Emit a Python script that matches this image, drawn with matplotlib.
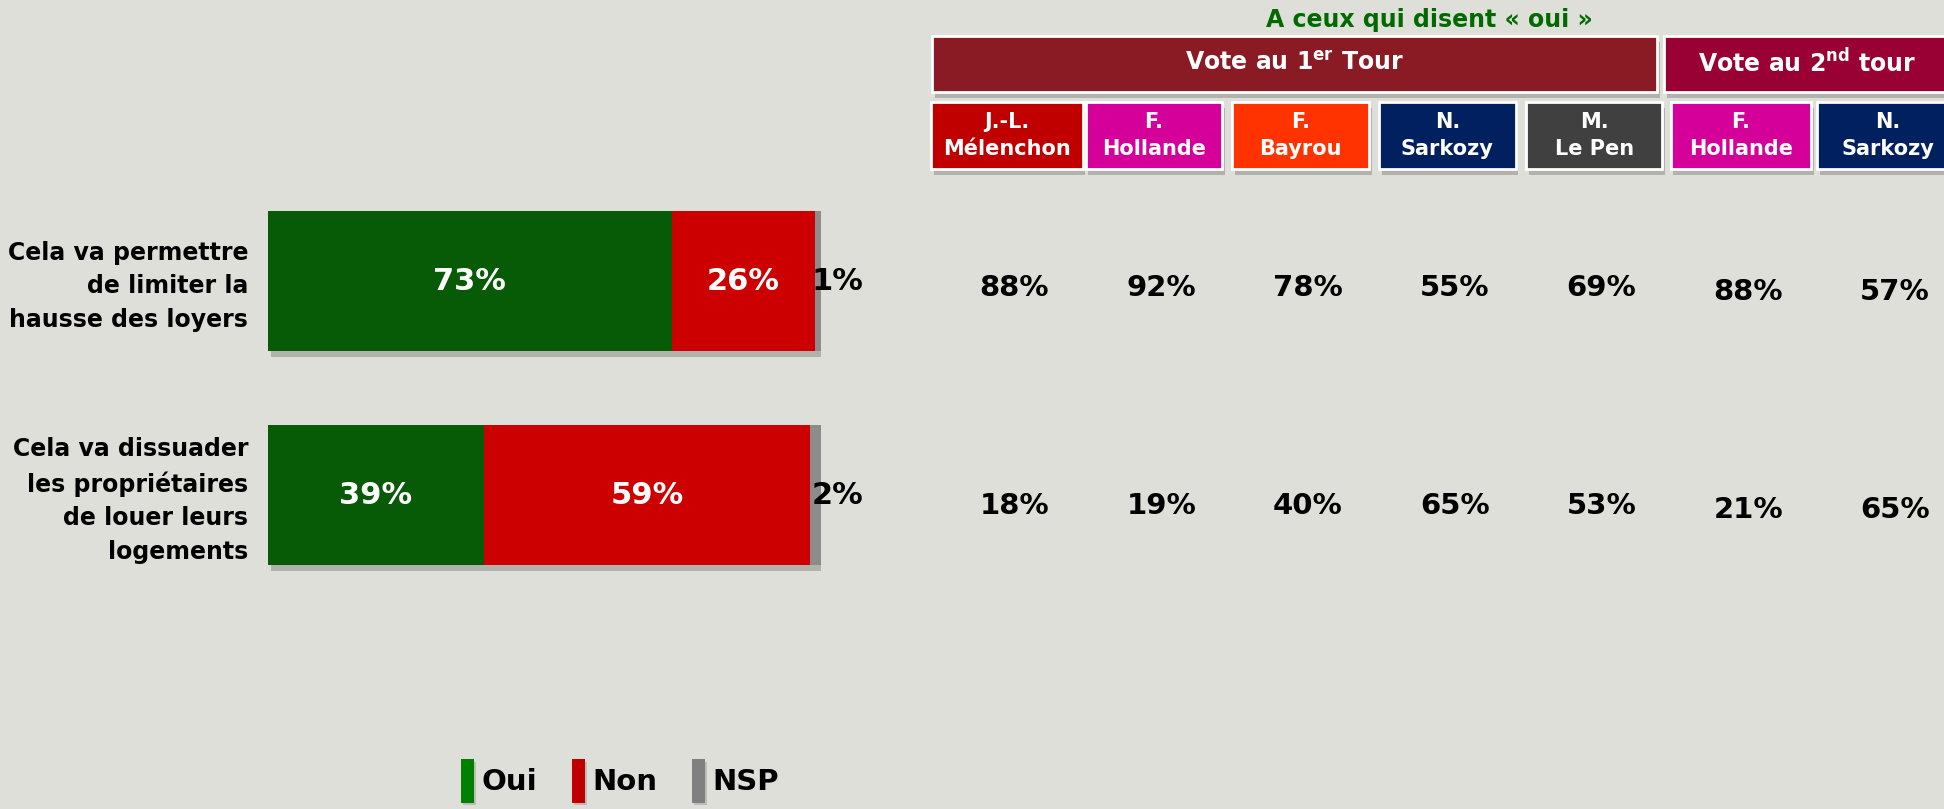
import numpy as np
import matplotlib
matplotlib.use("Agg")
import matplotlib.pyplot as plt
import matplotlib.patheffects as pe
from matplotlib.patches import Rectangle, Patch

plt.rcParams['font.family'] = ['DejaVu Sans']
plt.rcParams['font.weight'] = 'bold'
plt.rcParams['mathtext.fontset'] = 'dejavusans'
plt.rcParams['mathtext.default'] = 'bf'

# --- data ---
questions = ["Cela va permettre\nde limiter la\nhausse des loyers",
             "Cela va dissuader\nles propriétaires\nde louer leurs\nlogements"]
oui = [73, 39]
non = [26, 59]
nsp = [1, 2]

groups = ["Vote au 1$^{er}$ Tour", "Vote au 2$^{nd}$ tour"]
group_span = [5, 2]
candidates = ["J.-L.\nMélenchon", "F.\nHollande", "F.\nBayrou", "N.\nSarkozy",
              "M.\nLe Pen", "F.\nHollande", "N.\nSarkozy"]
cand_colors = ["#C00000", "#D5009A", "#FF3300", "#002060", "#404040",
               "#D5009A", "#002060"]
row1_vals = [88, 92, 78, 55, 69, 88, 57]
row2_vals = [18, 19, 40, 65, 53, 21, 65]

bg = "#DFDFD9"
bar_colors = ["#075B07", "#CC0000", "#8C8C8C"]
legend_colors = ["#008000", "#C00000", "#808080"]
group_colors = ["#8A1A24", "#990033"]

W, H = 1944, 809
fig = plt.figure(figsize=(W / 100, H / 100), dpi=100, facecolor=bg)

shadow = [pe.withSimplePatchShadow(offset=(2, -4), shadow_rgbFace="k", alpha=0.2)]

# --- stacked bars ---
ax = fig.add_axes([268 / W, 0, 553 / W, 1])
ax.set_facecolor("none")
ax.set_xlim(0, 100)
ax.set_ylim((H - 281) / 214, -281 / 214)
ax.axis("off")

y = np.arange(len(questions))
left = np.zeros(len(questions))
for vals, col in zip([oui, non, nsp], bar_colors):
    bars = ax.barh(y, vals, left=left, height=0.654, color=col, zorder=2)
    for b in bars:
        b.set_path_effects(shadow)
    left = left + np.array(vals)

for i in range(len(questions)):
    ax.text(oui[i] / 2, y[i], f"{oui[i]}%", ha="center", va="center",
            color="white", fontsize=22, fontweight="bold", zorder=3)
    ax.text(oui[i] + non[i] / 2, y[i], f"{non[i]}%", ha="center", va="center",
            color="white", fontsize=22, fontweight="bold", zorder=3)
    ax.text(left[i] + 3, y[i], f"{nsp[i]}%", ha="center", va="center",
            color="black", fontsize=22, fontweight="bold", zorder=3)
    ax.text(-3.6, y[i] + 0.025, questions[i], ha="right", va="center",
            multialignment="right", fontsize=17, fontweight="bold",
            linespacing=1.5)

# --- results table by vote ---
pitch = 146.8
tx = fig.add_axes([932 / W, 0, 1 - 932 / W, 1])
tx.set_facecolor("none")
tx.set_xlim((932 - 1007) / pitch, (W - 1007) / pitch)
tx.set_ylim((H - 288) / 218, -288 / 218)
tx.axis("off")

tx.text(2.88, -1.229, "A ceux qui disent « oui »", ha="center", va="center",
        color="#006A00", fontsize=17, fontweight="bold")

g_edges = [(-0.511, 4.428), (4.476, 6.6)]
g_text_x = [1.96, 5.45]
for (x0, x1), xc, name, col in zip(g_edges, g_text_x, groups, group_colors):
    r = Rectangle((x0, -1.156), x1 - x0, 0.257, facecolor=col,
                  edgecolor="white", linewidth=2, clip_on=False)
    r.set_path_effects(shadow)
    tx.add_patch(r)
    tx.text(xc, -1.03, name, ha="center", va="center", color="white",
            fontsize=17, fontweight="bold")

box_w = [1.03, 0.93, 0.93, 0.93, 0.93, 0.96, 0.96]
for i, (name, col) in enumerate(zip(candidates, cand_colors)):
    r = Rectangle((i - box_w[i] / 2, -0.853), box_w[i], 0.307, facecolor=col,
                  edgecolor="white", linewidth=2, clip_on=False)
    r.set_path_effects(shadow)
    tx.add_patch(r)
    tx.text(i, -0.70, name, ha="center", va="center", color="white",
            fontsize=15, fontweight="bold", linespacing=1.4)

for i in range(len(candidates)):
    dy = 0.018 if i >= group_span[0] else 0
    tx.text(i + 0.05, 0 + dy, f"{row1_vals[i]}%", ha="center", va="center",
            fontsize=21, fontweight="bold")
    tx.text(i + 0.05, 1 + dy, f"{row2_vals[i]}%", ha="center", va="center",
            fontsize=21, fontweight="bold")

# --- legend ---
handles = [Patch(facecolor=c, edgecolor="none") for c in legend_colors]
leg = fig.legend(handles, ["Oui", "Non", "NSP"], loc="center",
                 bbox_to_anchor=(620 / W, 1 - 781 / H), ncol=3, frameon=False,
                 handlelength=0.45, handleheight=1.9, handletextpad=0.25,
                 columnspacing=1.2, prop={"size": 21, "weight": "bold"})
for h in leg.legend_handles:
    h.set_path_effects([pe.withSimplePatchShadow(offset=(1.5, -2), shadow_rgbFace="k",
                                                 alpha=0.15)])

fig.savefig("out.png", dpi=100, facecolor=bg)
